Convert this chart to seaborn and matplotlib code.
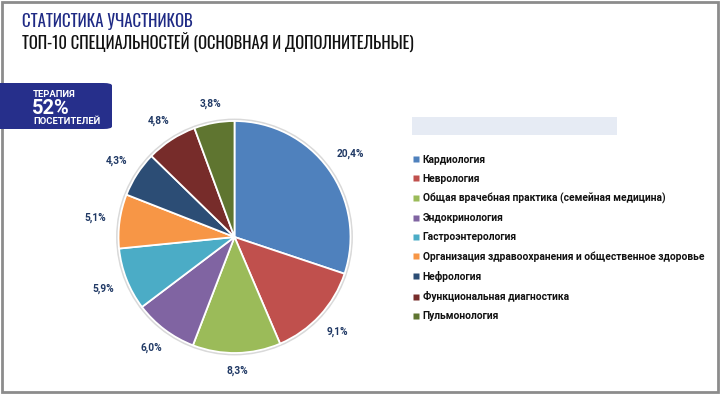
import numpy as np
import matplotlib
matplotlib.use("Agg")
import matplotlib.pyplot as plt
import seaborn as sns
from matplotlib import font_manager
from matplotlib.font_manager import FontProperties
from matplotlib.ft2font import FT2Font
from matplotlib.textpath import TextPath
from matplotlib.patches import Rectangle, FancyBboxPatch
from matplotlib.lines import Line2D

categories = [
    "Кардиология",
    "Неврология",
    "Общая врачебная практика (семейная медицина)",
    "Эндокринология",
    "Гастроэнтерология",
    "Организация здравоохранения и общественное здоровье",
    "Нефрология",
    "Функциональная диагностика",
    "Пульмонология",
]
values = [20.4, 9.1, 8.3, 6.0, 5.9, 5.1, 4.3, 4.8, 3.8]
value_labels = ["20,4%", "9,1%", "8,3%", "6,0%", "5,9%", "5,1%", "4,3%", "4,8%", "3,8%"]
colors = ["#4f81bd", "#c0504d", "#9bbb59", "#8064a2", "#4bacc6",
          "#f79646", "#2c4d75", "#772c2a", "#5f7530"]

title = "СТАТИСТИКА УЧАСТНИКОВ"
subtitle = "ТОП-10 СПЕЦИАЛЬНОСТЕЙ (ОСНОВНАЯ И ДОПОЛНИТЕЛЬНЫЕ)"
badge = ["ТЕРАПИЯ", "52%", "ПОСЕТИТЕЛЕЙ"]

sns.set_style("white")
plt.rcParams['font.family'] = ['Roboto', 'DejaVu Sans']

# ---- choose a condensed heading face that has Cyrillic ----
preferred = ['Roboto Condensed', 'Fira Sans Extra Condensed', 'Fira Sans Condensed',
             'PT Sans Narrow', 'IBM Plex Sans Condensed', 'Open Sans Condensed',
             'Ubuntu Condensed', 'Liberation Sans Narrow', 'Oswald', 'Roboto']
entries = font_manager.fontManager.ttflist

def has_cyr(path):
    try:
        cm = FT2Font(path).get_charmap()
        return all(ord(c) in cm for c in "СТАУЧИКОВЙ")
    except Exception:
        return False

def ink(text, prop):
    ext = TextPath((0, 0), text, size=1, prop=prop).get_extents()
    return ext.width, ext.height

target_ratio = 170.0 / 14.0   # title ink width / cap height in the reference
best = None
for name in preferred:
    cands = [f for f in entries if f.name == name and f.style == 'normal']
    if not cands:
        continue
    f = min(cands, key=lambda e: abs((e.weight if isinstance(e.weight, int) else 400) - 400))
    if not has_cyr(f.fname):
        continue
    prop = FontProperties(fname=f.fname)
    w, _ = ink(title, prop)
    cap = ink("Т", prop)[1]
    score = abs(w / cap - target_ratio)
    if best is None or score < best[0]:
        best = (score, f.name, prop)
head_prop = best[2] if best else FontProperties(family='Roboto')

def fit_size(text, width_px):
    w1, _ = ink(text, head_prop)
    return width_px * 72 / (100 * w1)

W, H = 720, 394
fig = plt.figure(figsize=(W / 100, H / 100), dpi=100)

def fx(px):
    return px / W

def fy(py):
    return 1 - py / H

# frame
fig.patches.append(Rectangle((fx(1.5), fy(392)), fx(716), (390.5) / H, transform=fig.transFigure,
                             fill=False, edgecolor="#8c8c8c", linewidth=2))

# titles
ts = min(fit_size(title, 170), 14.5)
ss = min(fit_size(subtitle, 393), 14.5)
fig.text(fx(22), fy(27), title, fontproperties=head_prop, fontsize=ts, color="#1f2a85", va="baseline")
fig.text(fx(22), fy(49), subtitle, fontproperties=head_prop, fontsize=ss, color="#111111", va="baseline")

# badge
fig.patches.append(FancyBboxPatch((fx(-10), fy(129)), fx(122), (129 - 83) / H,
                                  boxstyle="round,pad=0,rounding_size=0.012",
                                  transform=fig.transFigure, facecolor="#262f8b",
                                  edgecolor="none", mutation_aspect=H / W))
fig.text(fx(33), fy(97), badge[0], fontsize=6.8, weight="bold", color="white", va="baseline")
fig.text(fx(32), fy(113.5), badge[1], fontsize=14.5, weight="bold", color="white", va="baseline")
fig.text(fx(33), fy(124.5), badge[2], fontsize=6.8, weight="bold", color="white", va="baseline")

# pie
cx, cy, R = 234.5, 237, 116
lim = 1.4
side = 2 * lim * R
ax = fig.add_axes([fx(cx - side / 2), fy(cy + side / 2), side / W, side / H])
palette = sns.color_palette(colors)
wedges, texts = ax.pie(values, colors=palette, startangle=90, counterclock=False,
                       labels=value_labels, labeldistance=1.1,
                       wedgeprops=dict(edgecolor="white", linewidth=1.3),
                       textprops=dict(fontsize=7.3, weight="bold", color="#1f3864"))
ax.add_patch(plt.Circle((0, 0), 1.012, fill=False, edgecolor="#d9d9d9", linewidth=1.5, zorder=0))
ax.set_xlim(-lim, lim)
ax.set_ylim(-lim, lim)
ax.set_aspect("equal")
ax.axis("off")

# place labels just outside the rim: gap + half of the label box along the mid direction
renderer = fig.canvas.get_renderer()
gap_px, half_h = 13.0, 4.5
for wdg, t in zip(wedges, texts):
    ang = np.deg2rad((wdg.theta1 + wdg.theta2) / 2)
    dx, dy = np.cos(ang), np.sin(ang)
    half_w = t.get_window_extent(renderer).width / 2
    reach = 1 + (gap_px + abs(dx) * half_w + abs(dy) * half_h) / R
    t.set_position((dx * reach, dy * reach))
    t.set_ha("center")
    t.set_va("center")

# legend
fig.patches.append(Rectangle((fx(412), fy(135)), fx(205), 18 / H, transform=fig.transFigure,
                             facecolor="#e6ebf4", edgecolor="none"))
handles = [Line2D([], [], marker="s", linestyle="none", markersize=4.5,
                  markerfacecolor=c, markeredgecolor="none") for c in palette]
leg = fig.legend(handles, categories, loc="upper left", bbox_to_anchor=(fx(413), fy(155)),
                 frameon=False, handlelength=0.6, handletextpad=0.35,
                 labelspacing=0.88, borderaxespad=0, borderpad=0,
                 prop=dict(size=7.4, weight="bold"))
for t in leg.get_texts():
    t.set_color("#111111")

fig.savefig("out.png", dpi=100)
